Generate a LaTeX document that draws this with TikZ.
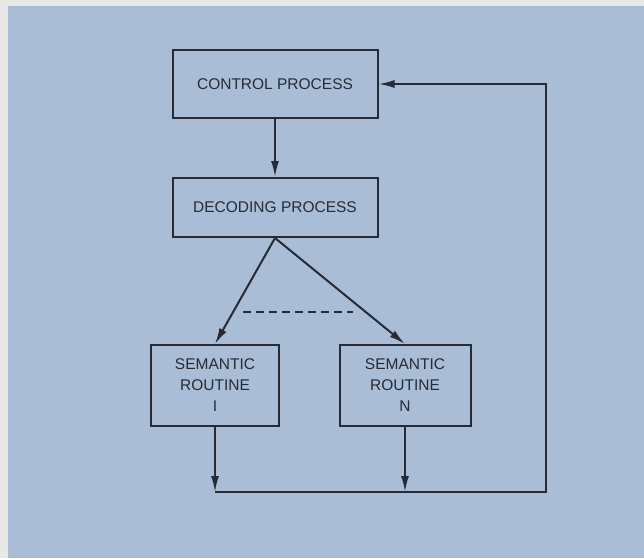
\documentclass[tikz,border=0pt]{standalone}
\usepackage{fontspec}
\setmainfont{Liberation Sans}
\usetikzlibrary{arrows.meta}
\definecolor{paper}{HTML}{E8E8E6}
\definecolor{panel}{HTML}{AABDD6}
\definecolor{ink}{HTML}{262B35}
\tikzset{
  procbox/.style={draw=ink,line width=2pt,text=ink,align=center,inner sep=0pt,
    font=\fontsize{15.5}{21}\selectfont},
  flow/.style={draw=ink,line width=2pt,-{Latex[length=16pt,width=8pt]}},
  wire/.style={draw=ink,line width=2pt}
}
\begin{document}
\begin{tikzpicture}[x=1pt,y=-1pt]
\fill[paper] (0,0) rectangle (644,558);
\fill[panel] (8,6) rectangle (644,558);
\useasboundingbox (0,0) rectangle (644,558);

\node[procbox,minimum width=205pt,minimum height=68pt] (ctrl) at (275,84) {CONTROL PROCESS};
\node[procbox,minimum width=205pt,minimum height=59pt] (dec) at (275,207.5) {DECODING PROCESS};
\node[procbox,minimum width=128pt,minimum height=81pt] (semI) at (215,385.5) {SEMANTIC\\ROUTINE\\I};
\node[procbox,minimum width=131pt,minimum height=81pt] (semN) at (405,385.5) {SEMANTIC\\ROUTINE\\N};

\coordinate (bl) at (215,492);
\coordinate (br) at (546,492);
\coordinate (tr) at (546,84);
\coordinate (dashL) at (243,312);
\coordinate (dashR) at (353,312);

\draw[flow] (ctrl.south) -- (dec.north);
\draw[flow] (dec.south) -- (semI.north);
\draw[flow] (dec.south) -- (semN.north);
\draw[wire,dash pattern=on 8pt off 5pt] (dashL) -- (dashR);

\draw[flow] (semI.south) -- (bl);
\draw[flow] (semN.south) -- (semN.south |- bl);
\draw[flow] (bl) -- (br) -- (tr) -- (ctrl.east);
\end{tikzpicture}
\end{document}
